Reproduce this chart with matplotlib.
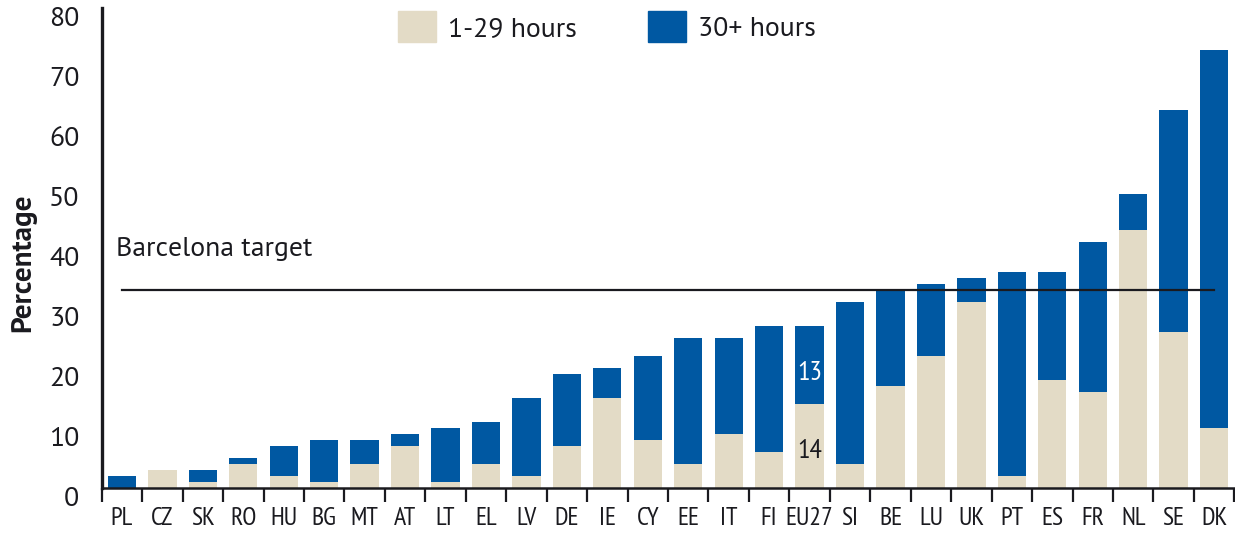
import numpy as np
import matplotlib
matplotlib.use('Agg')
import matplotlib.pyplot as plt
import matplotlib.transforms as mtransforms
from matplotlib.patches import Patch

countries = ['PL', 'CZ', 'SK', 'RO', 'HU', 'BG', 'MT', 'AT', 'LT', 'EL', 'LV', 'DE', 'IE', 'CY',
             'EE', 'IT', 'FI', 'EU27', 'SI', 'BE', 'LU', 'UK', 'PT', 'ES', 'FR', 'NL', 'SE', 'DK']
short_hours = [0, 3, 1, 4, 2, 1, 4, 7, 1, 4, 2, 7, 15, 8, 4, 9, 6, 14, 4, 17, 22, 31, 2, 18, 16, 43, 26, 10]
long_hours = [2, 0, 2, 1, 5, 7, 4, 2, 9, 7, 13, 12, 5, 14, 21, 16, 21, 13, 27, 16, 12, 4, 34, 18, 25, 6, 37, 63]
barcelona_target = 33
yticks = [0, 10, 20, 30, 40, 50, 60, 70, 80]

BEIGE = '#e3dbc6'
BLUE = '#0058a2'
INK = '#1a1a1f'

plt.rcParams['font.family'] = ['PT Sans', 'Liberation Sans', 'DejaVu Sans']
narrow = ['PT Sans Narrow', 'Liberation Sans', 'DejaVu Sans']

fig = plt.figure(figsize=(12.35, 5.35), dpi=100)
ax = fig.add_axes([101.7 / 1235, 47 / 535, 1132.6 / 1235, 480 / 535])

x = np.arange(len(countries))
ax.bar(x, short_hours, width=0.7, color=BEIGE, label='1-29 hours', zorder=2)
ax.bar(x, long_hours, width=0.7, bottom=short_hours, color=BLUE, label='30+ hours', zorder=2)

# target line
ax.plot([0, 27], [barcelona_target, barcelona_target], color=INK, lw=1.6, zorder=3)
ax.text(-0.15, 38.7, 'Barcelona target', fontsize=20, color=INK, ha='left', va='baseline')

# EU27 split labels
i = countries.index('EU27')
ax.text(i, short_hours[i] + long_hours[i] / 2 - 1.3, str(long_hours[i]), color='white',
        fontsize=20, ha='center', va='center', family=narrow)
ax.text(i, short_hours[i] / 2 - 0.8, str(short_hours[i]), color=INK,
        fontsize=20, ha='center', va='center', family=narrow)

ax.set_xlim(-0.5, len(countries) - 0.5)
ax.set_ylim(0, 80)
ax.set_xticks(np.arange(len(countries) + 1) - 0.5)
ax.set_xticklabels([])
ax.set_xticks(x, minor=True)
ax.set_xticklabels(countries, minor=True, family=narrow, fontsize=18.5, color=INK)
ax.tick_params(axis='x', which='major', direction='out', length=10, width=1.6, color=INK)
ax.tick_params(axis='x', which='minor', length=0, pad=14)

ax.set_yticks(yticks)
ax.set_yticklabels([str(v) for v in yticks], fontsize=20, color=INK)
ax.tick_params(axis='y', length=0, pad=16)
offset = mtransforms.ScaledTranslation(0, -0.09, fig.dpi_scale_trans)
for lab in ax.get_yticklabels():
    lab.set_transform(lab.get_transform() + offset)

ax.set_ylabel('Percentage', fontsize=21, fontweight='bold', color=INK)
ax.yaxis.set_label_coords(-0.058, 0.47)

for side in ['top', 'right']:
    ax.spines[side].set_visible(False)
ax.spines['left'].set_linewidth(2.4)
ax.spines['bottom'].set_linewidth(1.8)
ax.spines['left'].set_color(INK)
ax.spines['bottom'].set_color(INK)

handles = [Patch(color=BEIGE), Patch(color=BLUE)]
fig.legend(handles, ['1-29 hours', '30+ hours'], loc='upper left',
           bbox_to_anchor=(398 / 1235, 1 - 11 / 535), ncol=2, frameon=False,
           fontsize=20, handlelength=1.36, handleheight=1.35, handletextpad=0.45,
           columnspacing=2.55, borderpad=0, borderaxespad=0, labelcolor=INK)

fig.savefig('out.png', dpi=100)
